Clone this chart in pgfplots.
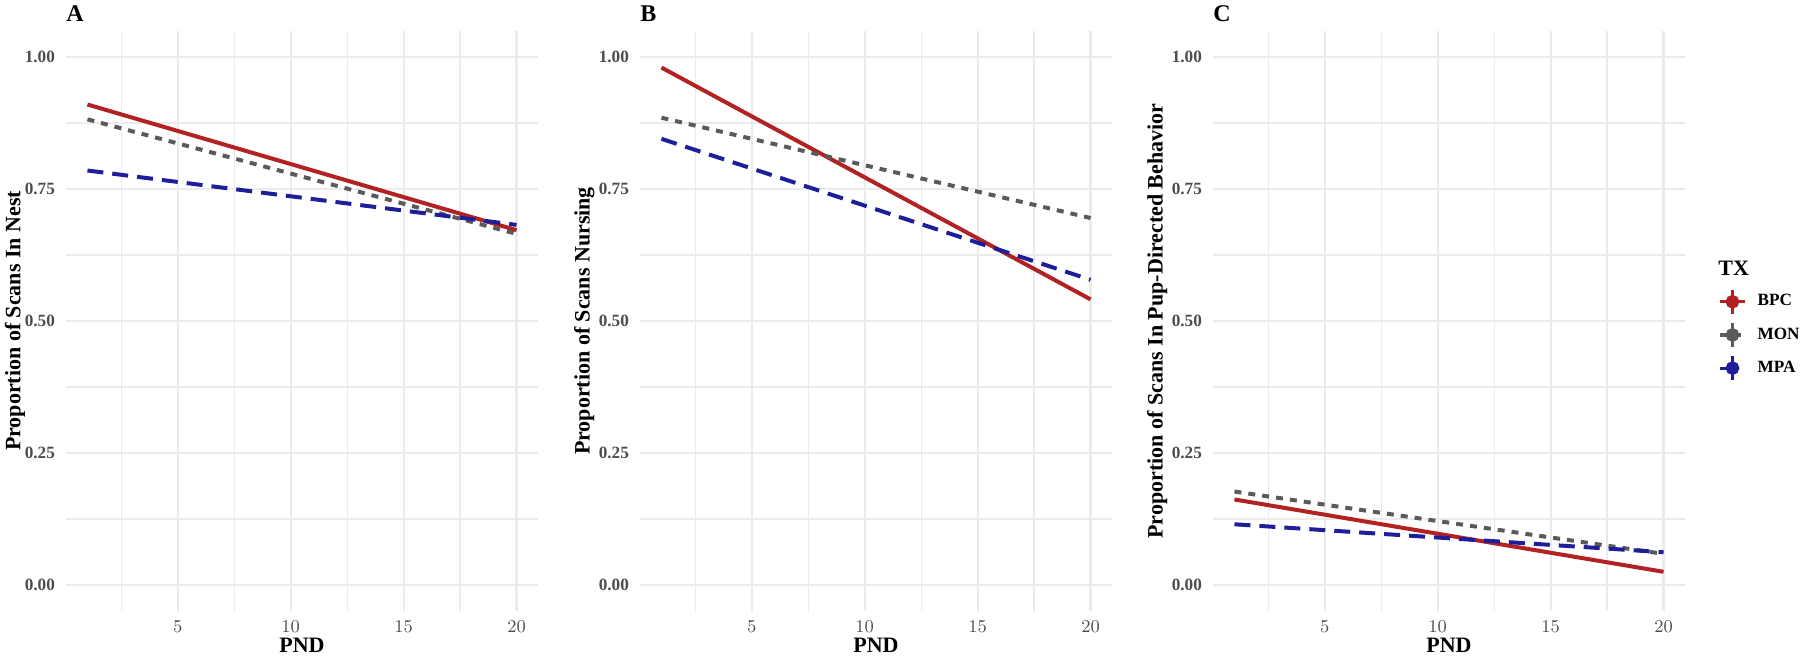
\documentclass[border=0pt]{standalone}
\usepackage{fontspec}
\setmainfont{Liberation Serif}
\usepackage{pgfplots}
\pgfplotsset{compat=1.18}
\definecolor{bpc}{HTML}{B22222}
\definecolor{mon}{HTML}{5A5A5A}
\definecolor{mpa}{HTML}{1E1E9A}
\definecolor{gridc}{HTML}{EBEBEB}
\definecolor{tickc}{HTML}{4D4D4D}
\pgfplotsset{
  panel/.style={
    scale only axis, width=236pt, height=290.4pt,
    xmin=0.05, xmax=20.95, ymin=-0.05, ymax=1.05,
    axis line style={draw=none},
    major tick length=0pt, minor tick length=0pt,
    xtick={5,10,15,20}, minor xtick={2.5,7.5,12.5,17.5},
    ytick={0,0.25,0.5,0.75,1}, yticklabels={0.00,0.25,0.50,0.75,1.00},
    minor ytick={0.125,0.375,0.625,0.875},
    grid=both,
    major grid style={draw=gridc, line width=1.1pt},
    minor grid style={draw=gridc, line width=0.6pt},
    ticklabel style={font=\fontsize{8.6}{10}\selectfont\bfseries, text=tickc},
    yticklabel style={xshift=-2pt},
    xticklabel style={anchor=base, yshift=-10.8pt},
    xlabel={PND},
    label style={font=\fontsize{11}{13}\selectfont\bfseries},
    xlabel style={at={(axis description cs:0.5,0)}, anchor=base, yshift=-20.6pt},
    ylabel style={at={(axis description cs:-0.118,0.5)}, anchor=center},
    clip=false,
    legend image code/.code={
      \draw[##1, line width=1.6pt] (0pt,0pt) -- (12.5pt,0pt);
      \draw[##1, solid, line width=1.6pt] (6.25pt,-6pt) -- (6.25pt,6pt);
      \fill[##1, solid] (6.25pt,0pt) circle (2.4pt);
    },
  },
  sbpc/.style={color=bpc, line width=2pt, solid},
  smon/.style={color=mon, line width=2pt, dash pattern=on 3.5pt off 3.5pt},
  smpa/.style={color=mpa, line width=2pt, dash pattern=on 8pt off 4.5pt},
}
\newcommand{\tagfont}{\fontsize{12}{14}\selectfont\bfseries}
\begin{document}
\begin{tikzpicture}
\path[use as bounding box] (0,0) rectangle (900pt,329pt);
% Panel A
\begin{axis}[panel, at={(33pt,23.3pt)}, anchor=south west,
  ylabel={Proportion of Scans In Nest},
  ylabel style={at={(axis description cs:-0.108,0.5)}}]
\addplot[sbpc, forget plot] coordinates {(1,0.910) (20,0.672)};
\addplot[smon, forget plot] coordinates {(1,0.882) (20,0.665)};
\addplot[smpa, forget plot] coordinates {(1,0.785) (20,0.682)};
\node[anchor=west, font=\tagfont, inner sep=0pt] at (rel axis cs:0,1) [yshift=8.5pt] {A};
\end{axis}
% Panel B
\begin{axis}[panel, at={(320pt,23.3pt)}, anchor=south west,
  ylabel={Proportion of Scans Nursing}]
\addplot[sbpc, forget plot] coordinates {(1,0.980) (20,0.541)};
\addplot[smon, forget plot] coordinates {(1,0.885) (20,0.695)};
\addplot[smpa, forget plot] coordinates {(1,0.845) (20,0.578)};
\node[anchor=west, font=\tagfont, inner sep=0pt] at (rel axis cs:0,1) [yshift=8.5pt] {B};
\end{axis}
% Panel C
\begin{axis}[panel, at={(606.5pt,23.3pt)}, anchor=south west,
  ylabel={Proportion of Scans In Pup-Directed Behavior},
  legend style={draw=none, fill=none, at={(rel axis cs:1,0.476)}, anchor=west,
    xshift=16.5pt, inner sep=0pt, row sep=3pt,
    font=\fontsize{8.6}{10}\selectfont\bfseries,
    /tikz/every odd column/.append style={column sep=3.5pt}},
  legend cell align=left]
\addplot[sbpc] coordinates {(1,0.162) (20,0.025)};
\addplot[smon] coordinates {(1,0.177) (20,0.059)};
\addplot[smpa] coordinates {(1,0.115) (20,0.062)};
\legend{BPC,MON,MPA}
\node[anchor=west, font=\tagfont, inner sep=0pt] at (rel axis cs:0,1) [yshift=8.5pt] {C};
\node[anchor=west, font=\fontsize{11}{13}\selectfont\bfseries, inner sep=0pt] at (rel axis cs:1,0.591) [xshift=16.5pt] {TX};
\end{axis}
\end{tikzpicture}
\end{document}
